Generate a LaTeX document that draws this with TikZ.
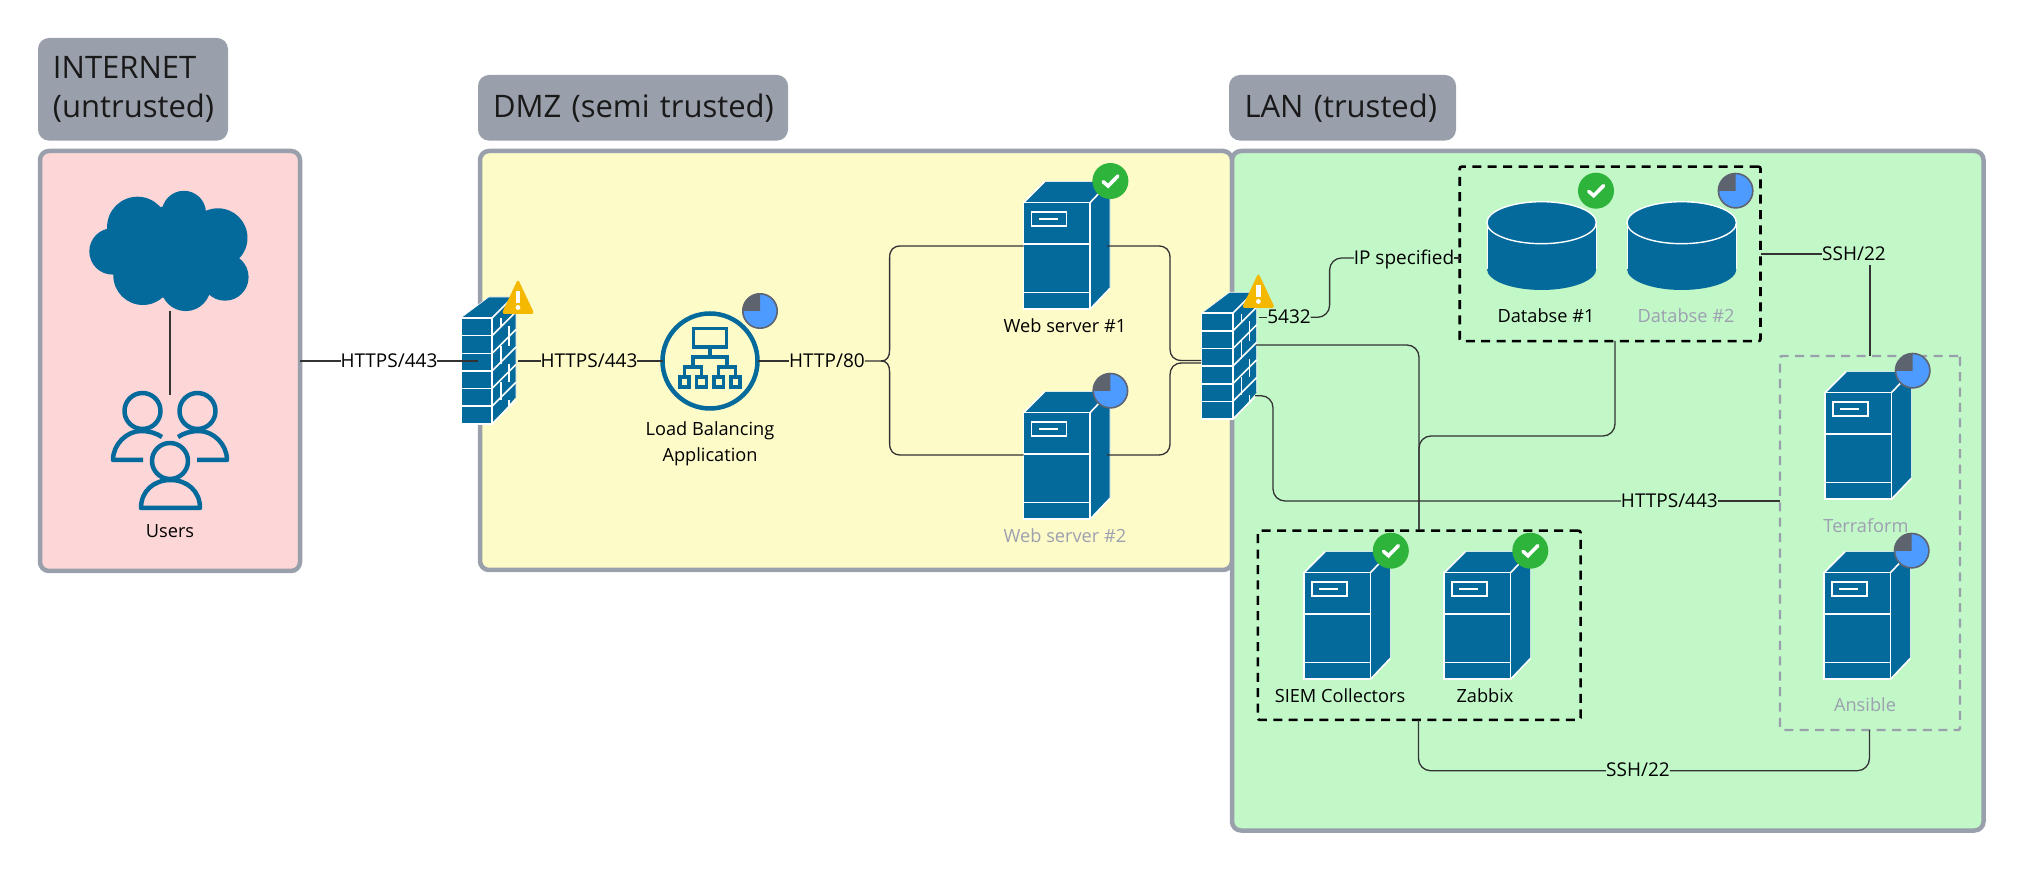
\documentclass[tikz,border=0pt]{standalone}
\usepackage{fontspec}
\setmainfont{Open Sans}
\definecolor{icon}{HTML}{04699B}
\definecolor{zoneline}{HTML}{9AA0AB}
\definecolor{pinkbg}{HTML}{FDD6D8}
\definecolor{yellowbg}{HTML}{FDFBC8}
\definecolor{greenbg}{HTML}{C2F7C8}
\definecolor{okgreen}{HTML}{2EB33B}
\definecolor{pieblue}{HTML}{4D9BFF}
\definecolor{piegray}{HTML}{5E6370}
\definecolor{warn}{HTML}{F5B800}
\definecolor{dimtext}{HTML}{9CA0B0}
\definecolor{wire}{HTML}{333333}
\tikzset{
  hit/.style={inner sep=0,outer sep=0,draw=none},
  zone/.style={draw=zoneline,line width=2.25pt,rounded corners=4.5pt,inner sep=0,outer sep=0,anchor=north west},
  tag/.style={fill=zoneline,rounded corners=5.5pt,inner xsep=7.5pt,inner ysep=0,outer sep=0,anchor=north west,align=left,font=\fontsize{15.5}{19.5}\selectfont,text=black!90},
  lbl/.style={inner sep=0,outer sep=0,font=\fontsize{9.1}{13}\selectfont,text height=7.2pt,text depth=1pt},
  captxt/.style={lbl,text=black},
  dimtxt/.style={lbl,text=dimtext},
  linktxt/.style={lbl,text=black,font=\fontsize{9.5}{13}\selectfont},
  multitxt/.style={inner sep=0,outer sep=0,font=\fontsize{9.1}{13}\selectfont,text=black,align=center},
  wirepath/.style={draw=wire,line width=0.65pt,rounded corners=6pt},
  blackgroup/.style={draw=black,line width=1.3pt,dash pattern=on 4.5pt off 3.2pt,inner sep=0,outer sep=0,anchor=north west,rounded corners=1pt},
  graygroup/.style={draw=zoneline,line width=1.2pt,dash pattern=on 4.5pt off 3.2pt,inner sep=0,outer sep=0,anchor=north west,rounded corners=1pt},
  iconline/.style={draw=icon,line width=2.25pt,line join=round},
  lbline/.style={draw=icon,line width=1.75pt,line join=miter},
}
\newcommand{\srvunit}[3]{%
  \node[hit,minimum width=43.2pt,minimum height=63.8pt,anchor=north west] (#1) at (#2,#3-21) {};
  \begin{scope}[shift={(#2,#3)}]
    \fill[icon] (0,0)--(21,-21)--(86.4,-21)--(86.4,85.6)--(66.4,106.6)--(0,106.6)--cycle;
    \draw[white,line width=0.3pt] (0,0)--(21,-21)--(86.4,-21)--(86.4,85.6);
    \draw[white,line width=0.8pt] (0,0) rectangle (66.4,106.6);
    \draw[white,line width=0.8pt] (0,0)--(21,-21) (66.4,0)--(86.4,-21) (66.4,106.6)--(86.4,85.6);
    \draw[white,line width=0.8pt] (0,41.3)--(66.4,41.3) (0,90)--(66.4,90);
    \draw[white,line width=0.8pt] (8,9.3) rectangle (43,23.3);
    \draw[white,line width=0.9pt] (15,16.3)--(34,16.3);
  \end{scope}}
\newcommand{\okbadge}[3]{%
  \node[hit,circle,fill=okgreen,minimum size=18pt] (#1) at (#2,#3) {};
  \draw[white,line width=1.8pt,line join=miter,line cap=round] ([shift={(-7.3,0.7)}]#1.center)--([shift={(-2.3,5)}]#1.center)--([shift={(7.5,-5)}]#1.center);}
\newcommand{\piebadge}[3]{%
  \node[hit,circle,fill=pieblue,minimum size=17.5pt] (#1) at (#2,#3) {};
  \begin{scope}
    \clip (#2-18,#3-18) rectangle (#2,#3);
    \fill[piegray] (#2,#3) circle[radius=17.5];
  \end{scope}
  \draw[piegray,line width=0.8pt] (#2,#3) circle[radius=17.2];}
\newcommand{\warnbadge}[3]{%
  \fill[warn,rounded corners=1.5pt] (#2,#3-2)--(#2+16.5,#3+33)--(#2-16.5,#3+33)--cycle;
  \node[hit,minimum size=1pt] (#1) at (#2,#3+17) {};
  \fill[white] (#2-2.2,#3+10) rectangle (#2+2.2,#3+22);
  \fill[white] (#2,#3+26.5) circle[radius=2.4];}
\newcommand{\wallunit}[3]{%
  \node[hit,minimum width=27.7pt,minimum height=63.5pt,anchor=north west] (#1) at (#2,#3-21) {};
  \begin{scope}[shift={(#2,#3)}]
    \fill[icon] (0,0)--(28,-21)--(55.3,-21)--(55.3,79)--(31.3,106)--(0,106)--cycle;
    \draw[white,line width=0.3pt] (0,0)--(28,-21)--(55.3,-21)--(55.3,79);
    \draw[white,line width=0.8pt] (0,0) rectangle (31.3,106);
    \foreach \yy in {17.7,35.4,53,70.6,88.3} \draw[white,line width=0.8pt] (0,\yy)--(31.3,\yy);
    \foreach \yy in {0,17.7,35.4,53,70.6,88.3,106} \draw[white,line width=0.8pt] (31.3,\yy)--(55.3,\yy-24);
    \draw[white,line width=0.8pt] (40,-10+10.5)--(40,8) (48,8)--(48,28) (40,28)--(40,46) (48,46)--(48,64) (40,64)--(40,82) (48,82)--(48,90);
  \end{scope}}
\newcommand{\dbunit}[3]{%
  \node[hit,minimum width=54.7pt,minimum height=44pt,anchor=north west] (#1) at (#2,#3) {};
  \begin{scope}[shift={(#2,#3)}]
    \fill[icon] (0,21) rectangle (109.4,67.3);
    \fill[icon] (54.7,67.3) ellipse[x radius=54.7,y radius=21];
    \fill[icon] (54.7,21) ellipse[x radius=54.7,y radius=21];
    \draw[white,line width=0.7pt] (54.7,21) ellipse[x radius=54.7,y radius=21];
    \draw[white,line width=0.25pt] (0,21)--(0,67.3) (109.4,21)--(109.4,67.3);
  \end{scope}}
\begin{document}
\begin{tikzpicture}[x=0.5pt,y=-0.5pt]
\useasboundingbox (0,0) rectangle (2026,871);
\fill[white] (0,0) rectangle (2026,871);
% zones
\node[zone,fill=pinkbg,minimum width=130pt,minimum height=210pt] (inet) at (40,151) {};
\node[zone,fill=yellowbg,minimum width=376pt,minimum height=209.5pt] (dmz) at (480,151) {};
\node[zone,fill=greenbg,minimum width=375.75pt,minimum height=339.75pt] (lan) at (1232,151) {};
\node[tag,minimum height=51.3pt,text width=80pt] (tinet) at (38,38) {\raisebox{-1.5pt}{INTERNET}\\\raisebox{-1.5pt}{(untrusted)}};
\node[tag,minimum height=32.8pt,minimum width=155pt,text width=140pt] (tdmz) at (478,75) {\raisebox{-1.5pt}{DMZ (semi trusted)}};
\node[tag,minimum height=32.8pt,minimum width=113.5pt,text width=98pt] (tlan) at (1229,75) {\raisebox{-1.5pt}{LAN (trusted)}};
% groups
\node[blackgroup,minimum width=150.4pt,minimum height=87.2pt] (dbgroup) at (1459.7,166.7) {};
\node[blackgroup,minimum width=161.4pt,minimum height=94.6pt] (mongroup) at (1257.8,530.7) {};
\node[graygroup,minimum width=90pt,minimum height=187pt] (opsgroup) at (1780,356) {};
% cloud
\fill[icon] (137.5,227.1) circle[radius=30.4] (183.9,212.9) circle[radius=22.1] (217.9,237.9) circle[radius=29.6] (225,277.1) circle[radius=23.6] (185.7,286.1) circle[radius=25] (142.9,275.4) circle[radius=29.6] (112.5,251.4) circle[radius=23.2] (171.4,252.1) circle[radius=46.4];
\node[hit,minimum width=79pt,minimum height=59.5pt] (cloud) at (169,251.5) {};
% users
\node[hit,circle,iconline,minimum size=18pt] (uhl) at (142.5,411) {};
\node[hit,circle,iconline,minimum size=18pt] (uhr) at (197.5,411) {};
\node[hit,circle,iconline,minimum size=18pt] (uhc) at (170,461) {};
\draw[iconline] (143,460)--(113,460) .. controls (113,444) and (127,431) .. (141,431) .. controls (149,431) and (156,433) .. (162,437);
\draw[iconline] (197,460)--(227,460) .. controls (227,444) and (213,431) .. (199,431) .. controls (191,431) and (184,433) .. (178,437);
\draw[iconline] (141,508) .. controls (141,491) and (154,480) .. (170.5,480) .. controls (187,480) and (200,491) .. (200,508) -- cycle;
\node[captxt] (users) at (170,531) {Users};
% firewalls
\wallunit{fwa}{460.7}{318}
\wallunit{fwb}{1201.4}{313.3}
\warnbadge{warna}{518}{281}
\warnbadge{warnb}{1258.4}{275}
% load balancer
\node[hit,circle,draw=icon,line width=2.25pt,minimum size=47.5pt] (lb) at (710,361) {};
\draw[lbline] (693.5,328.5) rectangle (726.5,347);
\draw[lbline] (710,347)--(710,357) (693,367)--(693,357)--(727,357)--(727,367);
\draw[lbline] (684.5,377)--(684.5,367)--(701.5,367)--(701.5,377) (718.5,377)--(718.5,367)--(735.5,367)--(735.5,377);
\draw[lbline] (680,377) rectangle (689,387) (696.5,377) rectangle (706.5,387) (714,377) rectangle (723.5,387) (731,377) rectangle (740,387);
\piebadge{lbpie}{760}{311}
\node[multitxt] (lbtext) at (710,444) {Load Balancing\\Application};
% servers
\srvunit{web1}{1023.6}{202.7}
\okbadge{web1ok}{1110.4}{181}
\node[captxt] (web1t) at (1065,326) {Web server \#1};
\srvunit{web2}{1023.6}{412.7}
\piebadge{web2pie}{1110.4}{390.7}
\node[dimtxt] (web2t) at (1065,536) {Web server \#2};
\srvunit{siem}{1304}{572.7}
\okbadge{siemok}{1390.8}{550.7}
\node[captxt] (siemt) at (1340,696.7) {SIEM Collectors};
\srvunit{zab}{1444.2}{572.7}
\okbadge{zabok}{1530.3}{550.7}
\node[captxt] (zabt) at (1485,696.7) {Zabbix};
\srvunit{terra}{1825}{392.7}
\piebadge{terrapie}{1912.7}{370.7}
\node[dimtxt] (terrat) at (1866,526) {Terraform};
\srvunit{ansi}{1824}{572.7}
\piebadge{ansipie}{1911.7}{550.7}
\node[dimtxt] (ansit) at (1865,705.7) {Ansible};
% databases
\dbunit{db1}{1486.9}{201.7}
\dbunit{db2}{1627}{201.7}
\okbadge{db1ok}{1596}{190.7}
\piebadge{db2pie}{1735.6}{190.7}
\node[captxt] (db1t) at (1546,316.7) {Databse \#1};
\node[dimtxt] (db2t) at (1686,316.7) {Databse \#2};
% connector labels
\node[linktxt] (la) at (389,361) {HTTPS/443};
\node[linktxt] (lb2) at (589,361) {HTTPS/443};
\node[linktxt] (lc) at (827,361) {HTTP/80};
\node[linktxt] (ld) at (1289,317.3) {5432};
\node[linktxt] (le) at (1404,258) {IP specified};
\node[linktxt] (lf) at (1854,254) {SSH/22};
\node[linktxt] (lg) at (1669.4,501) {HTTPS/443};
\node[linktxt] (lh) at (1638,770.7) {SSH/22};
% connectors
\draw[wirepath] (cloud.south -| users) -- (170,395);
\draw[wirepath,line width=1pt] (inet.east |- la) -- (la);
\draw[wirepath,line width=1pt] (la) -- (478,361);
\draw[wirepath,line width=1pt] (518,361) -- (lb2);
\draw[wirepath,line width=1pt] (lb2) -- (lb);
\draw[wirepath,line width=1pt] (lb) -- (lc);
\draw[wirepath,rounded corners=0pt] (lc) -- (881,361) .. controls (887,361) and (889.6,357) .. (889.6,350) -- (889.6,258) .. controls (889.6,250) and (893,246) .. (901,246) -- (web1.west |- 0,246);
\draw[wirepath,rounded corners=0pt] (881,361) .. controls (887,361) and (889.6,365) .. (889.6,372) -- (889.6,443) .. controls (889.6,451) and (893,455) .. (901,455) -- (web2.west |- 0,455);
\draw[wirepath,rounded corners=0pt] (1107,246) -- (1158,246) .. controls (1166,246) and (1170,250) .. (1170,258) -- (1170,349) .. controls (1170,356) and (1174,360.5) .. (1182,360.5) -- (fwb.west |- 0,360.5);
\draw[wirepath,rounded corners=0pt] (1107,455) -- (1158,455) .. controls (1166,455) and (1170,451) .. (1170,443) -- (1170,375) .. controls (1170,368) and (1174,363) .. (1182,363) -- (fwb.west |- 0,363);
\draw[wirepath] (1259,317.3) -- (ld);
\draw[wirepath] (ld) -- (1329.6,317.3) -- (1329.6,258) -- (le);
\draw[wirepath] (le) -- (dbgroup.west |- le);
\draw[wirepath,line width=1pt] (dbgroup.east |- lf) -- (lf);
\draw[wirepath,line width=1pt] (1869.7,265) -- (1869.7,356);
\draw[wirepath] (1615,341) -- (1615,436) -- (1419,436) -- (1419,530);
\draw[wirepath] (1256,345) -- (1419,345) -- (1419,530);
\draw[wirepath] (1255,395.7) -- (1273,395.7) -- (1273,501) -- (lg);
\draw[wirepath] (lg) -- (opsgroup.west |- lg);
\draw[wirepath] (1418.5,720) -- (1418.5,770.7) -- (lh);
\draw[wirepath] (lh) -- (1869.4,770.7) -- (1869.4,730);
\end{tikzpicture}
\end{document}
